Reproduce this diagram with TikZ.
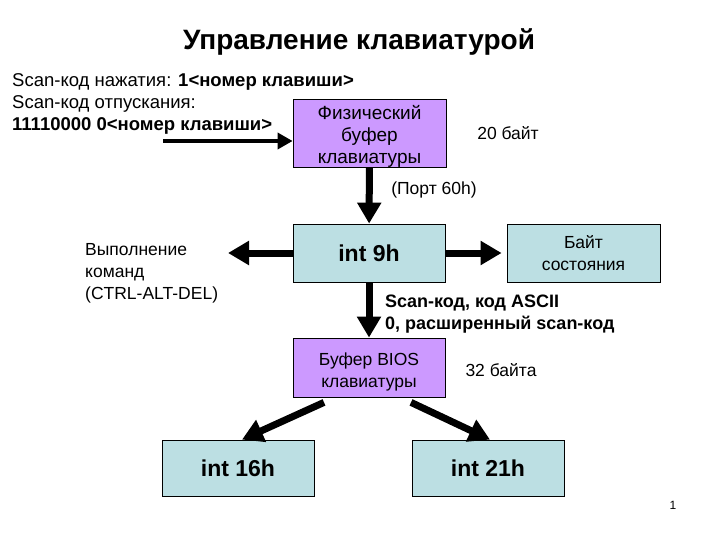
\documentclass[tikz,border=0pt]{standalone}
\usepackage{fontspec}
\setmainfont{Liberation Sans}
\usepackage{xcolor}
\usepackage{tikz}
\usetikzlibrary{arrows.meta, positioning}
\definecolor{violetbox}{RGB}{204,153,255}
\definecolor{cyanbox}{RGB}{188,223,227}

\begin{document}
\begin{tikzpicture}[x=1pt,y=-1pt]
        \useasboundingbox (0,0) rectangle (720,540);
        \begin{scope}[every node/.style={draw,line width=0.8pt,inner sep=0pt,align=center,font=\fontsize{17.5}{22}\selectfont}]
          \node[fill=violetbox,minimum width=153pt,minimum height=68pt,font=\fontsize{19}{22}\selectfont] (phys) at (369.5,133) {\rule{0pt}{20pt}Физический\\буфер\\клавиатуры};
          \node[fill=cyanbox,minimum width=152pt,minimum height=58pt,font=\fontsize{23}{26}\selectfont\bfseries] (int9) at (369,253) {int 9h};
          \node[fill=cyanbox,minimum width=153pt,minimum height=58pt] (state) at (583.5,253) {Байт\\состояния};
          \node[fill=violetbox,minimum width=152pt,minimum height=59pt] (bios) at (369,367.5) {\rule{0pt}{22pt}Буфер BIOS\\клавиатуры};
          \node[fill=cyanbox,minimum width=152pt,minimum height=56pt,font=\fontsize{23}{26}\selectfont\bfseries] (int16) at (238,468) {int 16h};
          \node[fill=cyanbox,minimum width=152pt,minimum height=56pt,font=\fontsize{23}{26}\selectfont\bfseries] (int21) at (488,468) {int 21h};
        \end{scope}
        \begin{scope}[every node/.style={inner sep=0pt,align=left,font=\fontsize{17.5}{22}\selectfont}]
          \node[font=\fontsize{28}{32}\selectfont\bfseries,anchor=base] (title) at (359,50) {Управление клавиатурой};
          \node[anchor=north west,font=\fontsize{18.5}{22}\selectfont] (codes) at (12,73) {Scan-код нажатия: \textbf{1<номер клавиши>}\\Scan-код отпускания:\\\textbf{11110000 0<номер клавиши>}};
          \node (size20) at (508,133) {20 байт};
          \node (port) at (434,190) {(Порт 60h)};
          \node[anchor=north west] (ctrl) at (85,243) {Выполнение\\команд\\(CTRL-ALT-DEL)};
          \node[anchor=north west,font=\fontsize{18}{22}\selectfont\bfseries] (ascii) at (385,295) {Scan-код, код ASCII\\0, расширенный scan-код};
          \node (size32) at (501,370) {32 байта};
          \node[font=\fontsize{12}{14}\selectfont] (page) at (673,505) {1};
        \end{scope}
        \coordinate (in) at (163,141);
        \coordinate (cmd) at (228,253);
        \begin{scope}[every edge/.style={draw=black,line width=7pt,-{Triangle[width=23pt,length=21pt]}}]
          \path (in) edge[line width=3.5pt,-{Triangle[width=16pt,length=15pt]}] (in -| phys.west);
          \path (phys) edge (int9);
          \path (int9) edge (bios);
          \path (int9) edge (cmd);
          \path (int9.east) edge ([xshift=-5pt]state.west);
          \path ([xshift=-45pt,yshift=-5pt]bios.south) edge ([xshift=4pt]int16.north);
          \path ([xshift=42pt,yshift=-5pt]bios.south) edge ([xshift=2pt]int21.north);
        \end{scope}
      \end{tikzpicture}
\end{document}
